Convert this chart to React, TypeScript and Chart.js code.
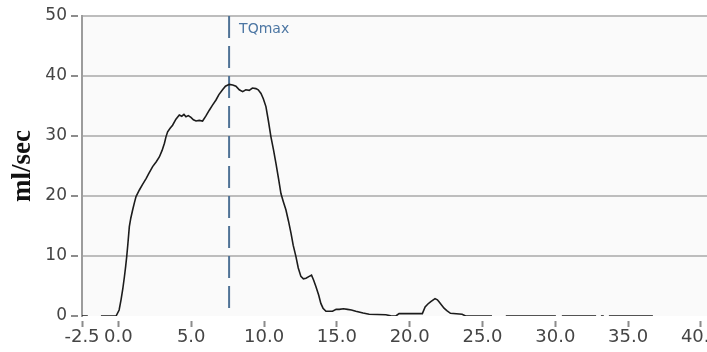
import React, { useEffect, useRef } from 'react';
import { Chart, registerables } from 'chart.js';

Chart.register(...registerables);

// Flow curve: time (s) vs flow (ml/sec); null marks a gap in the trace
const timeSec = [
  -2.5, -2.1, -1.65, -1.2, -0.16, 0.05, 0.18, 0.3, 0.41, 0.5, 0.57, 0.65, 0.75, 0.85, 0.98,
  1.1, 1.21, 1.44, 1.65, 1.9, 2.1, 2.35, 2.6, 2.81, 3.0, 3.16, 3.27, 3.38, 3.55, 3.72,
  3.95, 4.18, 4.35, 4.5, 4.64, 4.8, 4.98, 5.15, 5.33, 5.55, 5.78, 6.0, 6.24, 6.45, 6.7,
  6.9, 7.15, 7.35, 7.61, 7.85, 8.07, 8.3, 8.53, 8.75, 8.98, 9.2, 9.44, 9.6, 9.79, 9.95,
  10.13, 10.3, 10.47, 10.65, 10.82, 11.0, 11.16, 11.33, 11.5, 11.68, 11.85, 12.0, 12.19,
  12.35, 12.53, 12.7, 12.88, 13.1, 13.26, 13.4, 13.56, 13.75, 13.9, 14.05, 14.25, 14.7,
  14.95, 15.16, 15.45, 15.73, 16.0, 16.3, 16.8, 17.22, 18.36, 18.7, 19.05, 19.27, 20.87,
  21.06, 21.25, 21.45, 21.74, 21.9, 22.0, 22.2, 22.36, 22.55, 22.8, 23.6, 23.84, 25.65,
  26.1, 26.6, 30.04, 30.25, 30.45, 32.8, 32.95, 33.13, 33.33, 33.5, 33.68, 36.7,
];
const flowMlSec = [
  0, 0, null, 0, 0, 1.0, 2.7, 4.5, 6.5, 8.3, 9.9, 12.0, 14.9, 16.3, 17.7,
  18.9, 19.9, 21.0, 21.9, 22.9, 23.8, 24.9, 25.7, 26.5, 27.6, 28.8, 29.9, 30.7, 31.3, 31.8,
  32.8, 33.5, 33.3, 33.6, 33.2, 33.4, 33.1, 32.7, 32.5, 32.6, 32.5, 33.3, 34.3, 35.1, 36.0,
  36.9, 37.7, 38.3, 38.6, 38.5, 38.3, 37.7, 37.4, 37.7, 37.6, 38.0, 37.9, 37.7, 37.1, 36.2,
  34.9, 32.5, 29.9, 27.7, 25.4, 22.8, 20.4, 19.0, 17.7, 15.8, 13.8, 11.8, 9.9,
  8.0, 6.6, 6.2, 6.3, 6.6, 6.8, 6.0, 4.9, 3.5, 2.1, 1.3, 0.8, 0.8,
  1.1, 1.1, 1.2, 1.1, 1.0, 0.8, 0.5, 0.3, 0.2, 0.05, 0, 0.4, 0.4,
  1.5, 2.0, 2.4, 2.9, 2.7, 2.4, 1.8, 1.3, 0.9, 0.45, 0.3, 0, 0,
  null, 0, 0, null, 0, 0, null, 0, 0, null, 0, 0,
];

const xTickValues = [-2.5, 0, 5, 10, 15, 20, 25, 30, 35, 40];
const yTickValues = [0, 10, 20, 30, 40, 50];
const xMin = -2.5;
const xMax = 40.5;
const yMin = 0;
const yMax = 50;
const tqMaxTime = 7.6;
const tqMaxLabel = 'TQmax';
const tqLabelLevel = 47.7;
const yAxisTitle = 'ml/sec';

export default function App() {
  const canvasRef = useRef<HTMLCanvasElement | null>(null);

  useEffect(() => {
    const canvas = canvasRef.current;
    if (!canvas) return;

    const bgPlugin = {
      id: 'bgPlugin',
      beforeDraw(chart: any) {
        const { ctx, chartArea } = chart;
        ctx.save();
        ctx.fillStyle = '#ffffff';
        ctx.fillRect(0, 0, chart.width, chart.height);
        ctx.fillStyle = '#fafafa';
        ctx.fillRect(chartArea.left, chartArea.top, chartArea.right - chartArea.left, chartArea.bottom - chartArea.top);
        ctx.restore();
      },
    };

    const tqLabelPlugin = {
      id: 'tqLabelPlugin',
      afterDatasetsDraw(chart: any) {
        const { ctx, scales } = chart;
        const px = scales.x.getPixelForValue(tqMaxTime);
        const py = scales.y.getPixelForValue(tqLabelLevel);
        ctx.save();
        ctx.fillStyle = '#4c76a3';
        ctx.font = '14px "DejaVu Sans"';
        ctx.textAlign = 'left';
        ctx.textBaseline = 'middle';
        ctx.fillText(tqMaxLabel, px + 10, py);
        ctx.restore();
      },
    };

    const flowPoints = timeSec.map((t, i) => ({ x: t, y: flowMlSec[i] }));
    const tqPoints = [
      { x: tqMaxTime, y: yMax },
      { x: tqMaxTime, y: yMin },
    ];

    const chart = new Chart(canvas, {
      type: 'line',
      data: {
        datasets: [
          {
            data: tqPoints as any,
            borderColor: '#4f7296',
            borderWidth: 2,
            borderDash: [22, 8],
            pointRadius: 0,
            fill: false,
            order: 2,
          },
          {
            data: flowPoints as any,
            borderColor: '#1c1c1c',
            borderWidth: 1.6,
            pointRadius: 0,
            tension: 0,
            spanGaps: false,
            fill: false,
            order: 1,
          },
        ],
      },
      options: {
        animation: false,
        responsive: false,
        devicePixelRatio: 1,
        layout: { padding: { top: 16, right: 0, bottom: 0, left: 0 } },
        plugins: {
          legend: { display: false },
          tooltip: { enabled: false },
        },
        scales: {
          x: {
            type: 'linear',
            min: xMin,
            max: xMax,
            afterBuildTicks: (s: any) => {
              s.ticks = xTickValues.map((v) => ({ value: v }));
            },
            afterFit: (s: any) => {
              s.height = 36;
            },
            grid: {
              drawOnChartArea: false,
              tickLength: 11,
              tickColor: '#8c8c8c',
              tickWidth: 2,
              tickBorderDash: [0, 5, 6, 30],
            },
            border: { display: false },
            ticks: {
              color: '#454545',
              font: { family: '"DejaVu Sans"', size: 18 },
              padding: 0,
              maxRotation: 0,
              minRotation: 0,
              autoSkip: false,
              callback: (v: any) => Number(v).toFixed(1),
            },
          },
          y: {
            type: 'linear',
            min: yMin,
            max: yMax,
            afterBuildTicks: (s: any) => {
              s.ticks = yTickValues.map((v) => ({ value: v }));
            },
            afterFit: (s: any) => {
              s.width = 82;
            },
            grid: {
              color: (c: any) => (c.tick && c.tick.value === 0 ? 'rgba(0,0,0,0)' : '#bdbdbd'),
              lineWidth: 2,
              tickLength: 11,
              tickColor: '#8c8c8c',
              tickWidth: 2,
              tickBorderDash: [7, 10],
            },
            border: { display: true, color: '#9c9c9c', width: 2 },
            ticks: {
              color: '#454545',
              font: { family: '"DejaVu Sans"', size: 17 },
              padding: 4,
            },
            title: {
              display: true,
              text: yAxisTitle,
              color: '#111111',
              font: { family: '"Liberation Serif"', size: 27, weight: 'bold' },
              padding: { top: 7, bottom: 0 },
            },
          },
        },
      },
      plugins: [bgPlugin, tqLabelPlugin],
    });

    return () => {
      chart.destroy();
    };
  }, []);

  return (
    <div
      style={{
        position: 'fixed',
        left: 0,
        top: 0,
        width: 707,
        height: 352,
        overflow: 'hidden',
        background: '#ffffff',
      }}
    >
      <canvas ref={canvasRef} width={721} height={352} style={{ display: 'block' }} />
    </div>
  );
}
